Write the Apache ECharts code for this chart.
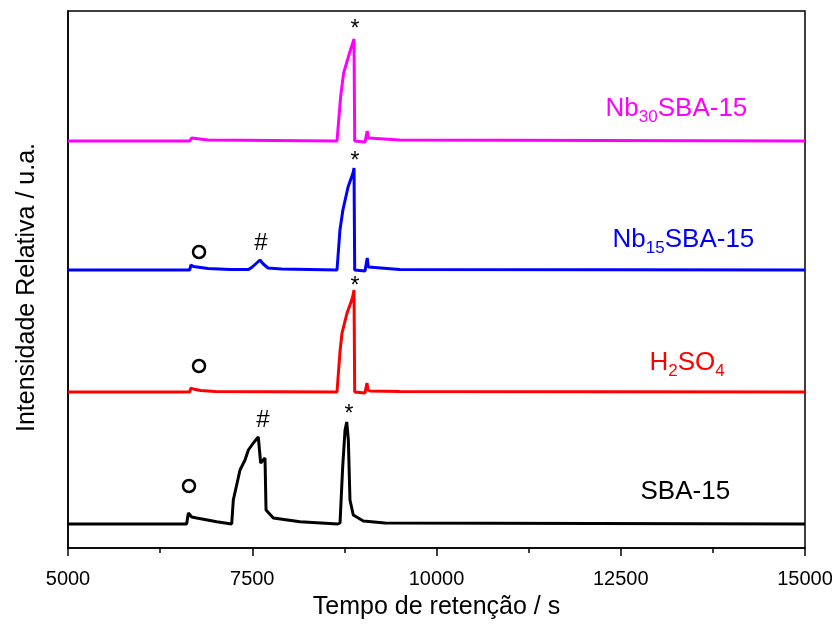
<!DOCTYPE html>
<html>
<head>
<meta charset="utf-8">
<script src="https://cdn.jsdelivr.net/npm/echarts@6/dist/echarts.min.js"></script>
<style>
  html, body { margin: 0; padding: 0; background: #fff; }
  #chart { width: 839px; height: 634px; }
</style>
</head>
<body>
<div id="chart"></div>
<script>
// tempo de retenção (s) e intensidade relativa (acima da linha de base) de cada amostra
var tSBA = [5000, 6610, 6633, 6678, 6746, 7018, 7221, 7243, 7334, 7402, 7447, 7515, 7582, 7605, 7614, 7673, 7687, 7786, 8148, 8660, 8691, 8727, 8759, 8782, 8804, 8826, 8871, 9007, 9300, 15000];
var iSBA = [0, 0, 11, 7, 6, 2.3, 0, 24, 54, 64, 74, 81, 87, 89, 61, 66, 14, 6, 2.3, 0, 1, 57, 94, 102, 84, 24, 9, 3, 1, 0];

var tH2SO4 = [5000, 6650, 6669, 6700, 6800, 7000, 8650, 8664, 8690, 8718, 8786, 8850, 8867, 8881, 8890, 8900, 9030, 9045, 9057, 9070, 9100, 9500, 15000];
var iH2SO4 = [0, 0, 4, 3, 1.5, 0.5, 0, 2, 40, 59, 79, 92, 97, 102, 0, -2, -1, 0, 9, 2, 1, 0.5, 0];

var tNb15 = [5000, 6650, 6669, 6700, 6900, 7200, 7450, 7500, 7605, 7650, 7714, 7900, 8650, 8664, 8690, 8730, 8800, 8867, 8881, 8890, 8900, 9030, 9045, 9060, 9075, 9100, 9500, 15000];
var iNb15 = [0, 0, 5, 3.5, 1.5, 0.5, 0.5, 3, 10, 6, 2, 1, 0, 2, 40, 60, 83, 97, 102, 0, -2, -1, 0, 12, 3, 1.5, 0.5, 0];

var tNb30 = [5000, 6650, 6680, 6700, 6900, 8650, 8664, 8700, 8740, 8820, 8881, 8890, 8900, 9030, 9050, 9060, 9075, 9100, 9500, 15000];
var iNb30 = [0, 0, 3, 2, 1, 0, 2, 45, 68, 88, 102, 0, -2, -1, 0, 10, 3, 2, 1, 0];

// deslocamento vertical de cada curva
var offsets = [24, 156, 278, 407];
var names = ['SBA-15', 'H2SO4', 'Nb15SBA-15', 'Nb30SBA-15'];
var colors = ['#000000', '#ff0000', '#0000ff', '#ff00ff'];

// rótulos das curvas [t, y]
var labelPos = [[12761, 56], [12884, 185], [12382, 308], [12287, 439]];
var labelText = ['{m|SBA-15}', '{m|H}{s|2}{m|SO}{s|4}', '{m|Nb}{s|15}{m|SBA-15}', '{m|Nb}{s|30}{m|SBA-15}'];

// marcações dos picos
var circlePts = [[6642, 62], [6778, 182], [6778, 296]];
var hashPts = [[7646, 128], [7619, 305]];
var starPts = [[8813, 138], [8894, 266], [8894, 391], [8894, 523]];

function pairs(t, v, off) {
  var out = [];
  for (var i = 0; i < t.length; i++) out.push([t[i], v[i] + off]);
  return out;
}

var traces = [[tSBA, iSBA], [tH2SO4, iH2SO4], [tNb15, iNb15], [tNb30, iNb30]];
var series = [];
traces.forEach(function (tr, k) {
  series.push({
    name: names[k],
    type: 'line',
    data: pairs(tr[0], tr[1], offsets[k]),
    showSymbol: false,
    smooth: false,
    lineStyle: { color: colors[k], width: 3 },
    z: 3
  });
});

series.push({
  type: 'scatter',
  data: labelPos.map(function (p, k) {
    return { value: p, label: { color: colors[k], formatter: labelText[k] } };
  }),
  symbolSize: 1,
  itemStyle: { color: 'transparent', opacity: 1 },
  label: {
    show: true,
    position: 'right',
    distance: 0,
    rich: {
      m: { fontSize: 26, fontFamily: 'Liberation Sans, Arial', lineHeight: 34, verticalAlign: 'middle' },
      s: { fontSize: 17, fontFamily: 'Liberation Sans, Arial', lineHeight: 10, verticalAlign: 'bottom' }
    }
  },
  silent: true,
  z: 5
});

series.push({
  type: 'scatter',
  data: circlePts,
  symbol: 'circle',
  symbolSize: 12,
  itemStyle: { color: 'transparent', borderColor: '#000', borderWidth: 2.5, opacity: 1 },
  silent: true,
  z: 5
});

series.push({
  type: 'scatter',
  data: hashPts,
  symbolSize: 1,
  itemStyle: { color: 'transparent', opacity: 1 },
  label: { show: true, position: 'inside', formatter: '#', fontSize: 24, color: '#000', fontFamily: 'Liberation Sans, Arial' },
  silent: true,
  z: 5
});

series.push({
  type: 'scatter',
  data: starPts,
  symbolSize: 1,
  itemStyle: { color: 'transparent', opacity: 1 },
  label: { show: true, position: 'inside', formatter: '*', fontSize: 23, color: '#000', offset: [0, 5], fontFamily: 'Liberation Sans, Arial' },
  silent: true,
  z: 5
});

var chart = echarts.init(document.getElementById('chart'));
chart.setOption({
  animation: false,
  backgroundColor: '#fff',
  grid: { left: 68, right: 34, top: 11, bottom: 86, show: true, borderColor: '#000', borderWidth: 1.5 },
  xAxis: {
    type: 'value',
    min: 5000,
    max: 15000,
    interval: 2500,
    name: 'Tempo de retenção / s',
    nameLocation: 'middle',
    nameGap: 47,
    nameTextStyle: { fontSize: 25, color: '#000', fontFamily: 'Liberation Sans, Arial' },
    axisLine: { lineStyle: { color: '#000', width: 1.5 } },
    axisTick: { show: true, length: 8, lineStyle: { color: '#000', width: 1.5 } },
    minorTick: { show: true, splitNumber: 2, length: 5, lineStyle: { color: '#000', width: 1.5 } },
    axisLabel: { fontSize: 20, color: '#000', margin: 21, fontFamily: 'Liberation Sans, Arial', formatter: function (v) { return String(v); } },
    splitLine: { show: false }
  },
  yAxis: {
    type: 'value',
    min: 0,
    max: 537,
    name: 'Intensidade Relativa / u.a.',
    nameLocation: 'middle',
    nameGap: 28,
    nameTextStyle: { fontSize: 25, color: '#000', fontFamily: 'Liberation Sans, Arial', padding: [0, 16, 0, 0] },
    axisLine: { show: true, lineStyle: { color: '#000', width: 1.5 } },
    axisTick: { show: false },
    axisLabel: { show: false },
    splitLine: { show: false }
  },
  series: series
});
</script>
</body>
</html>
